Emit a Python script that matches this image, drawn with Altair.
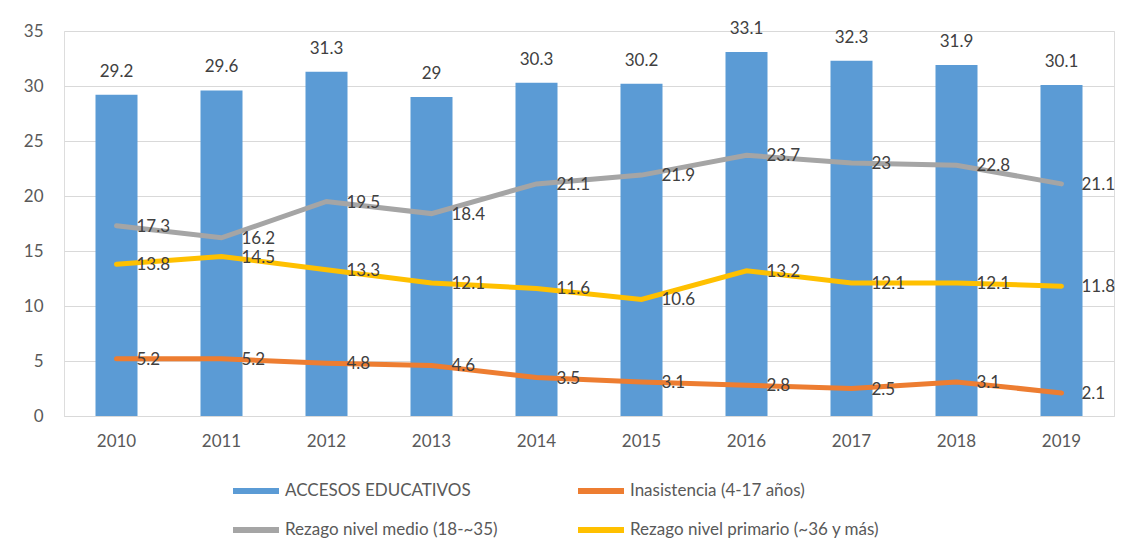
import altair as alt
import pandas as pd

years = ["2010", "2011", "2012", "2013", "2014", "2015", "2016", "2017", "2018", "2019"]
accesos = [29.2, 29.6, 31.3, 29, 30.3, 30.2, 33.1, 32.3, 31.9, 30.1]
inasistencia = [5.2, 5.2, 4.8, 4.6, 3.5, 3.1, 2.8, 2.5, 3.1, 2.1]
rezago_medio = [17.3, 16.2, 19.5, 18.4, 21.1, 21.9, 23.7, 23, 22.8, 21.1]
rezago_primario = [13.8, 14.5, 13.3, 12.1, 11.6, 10.6, 13.2, 12.1, 12.1, 11.8]

series_names = [
    "ACCESOS EDUCATIVOS",
    "Inasistencia (4-17 años)",
    "Rezago nivel medio (18-~35)",
    "Rezago nivel primario (~36 y más)",
]
series_colors = ["#5B9BD5", "#ED7D31", "#A5A5A5", "#FFC000"]
# legend fills column by column: order entries so rows read as in the reference
legend_order = [0, 2, 1, 3]
legend_domain = [series_names[i] for i in legend_order]
legend_range = [series_colors[i] for i in legend_order]

rows = []
for name, vals in zip(series_names, [accesos, inasistencia, rezago_medio, rezago_primario]):
    for y, v in zip(years, vals):
        rows.append({"year": y, "series": name, "value": v})
df = pd.DataFrame(rows)

FONT = "Lato"
TXT = "#404040"

x = alt.X("year:N", title=None,
          scale=alt.Scale(paddingInner=0.6, paddingOuter=0.3),
          axis=alt.Axis(labelAngle=0, ticks=False, domainColor="#D9D9D9", domainWidth=1,
                        labelPadding=17, labelFontSize=17, labelColor="#595959", labelFont=FONT))
y = alt.Y("value:Q", title=None,
          scale=alt.Scale(domain=[0, 35], nice=False),
          axis=alt.Axis(values=[0, 5, 10, 15, 20, 25, 30, 35], ticks=False, domain=False,
                        gridColor="#D9D9D9", gridWidth=1, labelPadding=21,
                        labelFontSize=17, labelColor="#595959", labelFont=FONT))
color = alt.Color("series:N", title=None,
                  scale=alt.Scale(domain=legend_domain, range=legend_range),
                  legend=alt.Legend(orient="none", legendX=169, legendY=437, columns=2,
                                    columnPadding=80, rowPadding=8,
                                    symbolType="M-1,-0.13H1V0.13H-1Z", symbolSize=2116,
                                    symbolStrokeWidth=0, labelOffset=6,
                                    labelFontSize=17, labelColor="#595959", labelFont=FONT,
                                    labelLimit=400))

base = alt.Chart(df)
bars = base.transform_filter(alt.datum.series == series_names[0]).mark_bar().encode(
    x=x, y=y, color=color)
bar_text = base.transform_filter(alt.datum.series == series_names[0]).mark_text(
    dy=-23, fontSize=17, color=TXT, font=FONT).encode(
    x=x, y=y, text=alt.Text("value:Q"))
lines = base.transform_filter(alt.datum.series != series_names[0]).mark_line(
    strokeWidth=5, strokeCap="round").encode(
    x=x, y=y, color=color, detail="series:N")
line_text = base.transform_filter(alt.datum.series != series_names[0]).mark_text(
    align="left", baseline="middle", dx=20, dy=1, fontSize=17, color=TXT, font=FONT).encode(
    x=x, y=y, text=alt.Text("value:Q"), detail="series:N")

chart = alt.layer(bars, bar_text, lines, line_text).properties(
    width=1050, height=385,
    autosize=alt.AutoSizeParams(type="none"),
    padding={"left": 56, "top": 23, "right": 10, "bottom": 132},
).configure_view(stroke=None).configure(background="white")

chart.save("out.html", embed_options={"renderer": "svg", "actions": False})
